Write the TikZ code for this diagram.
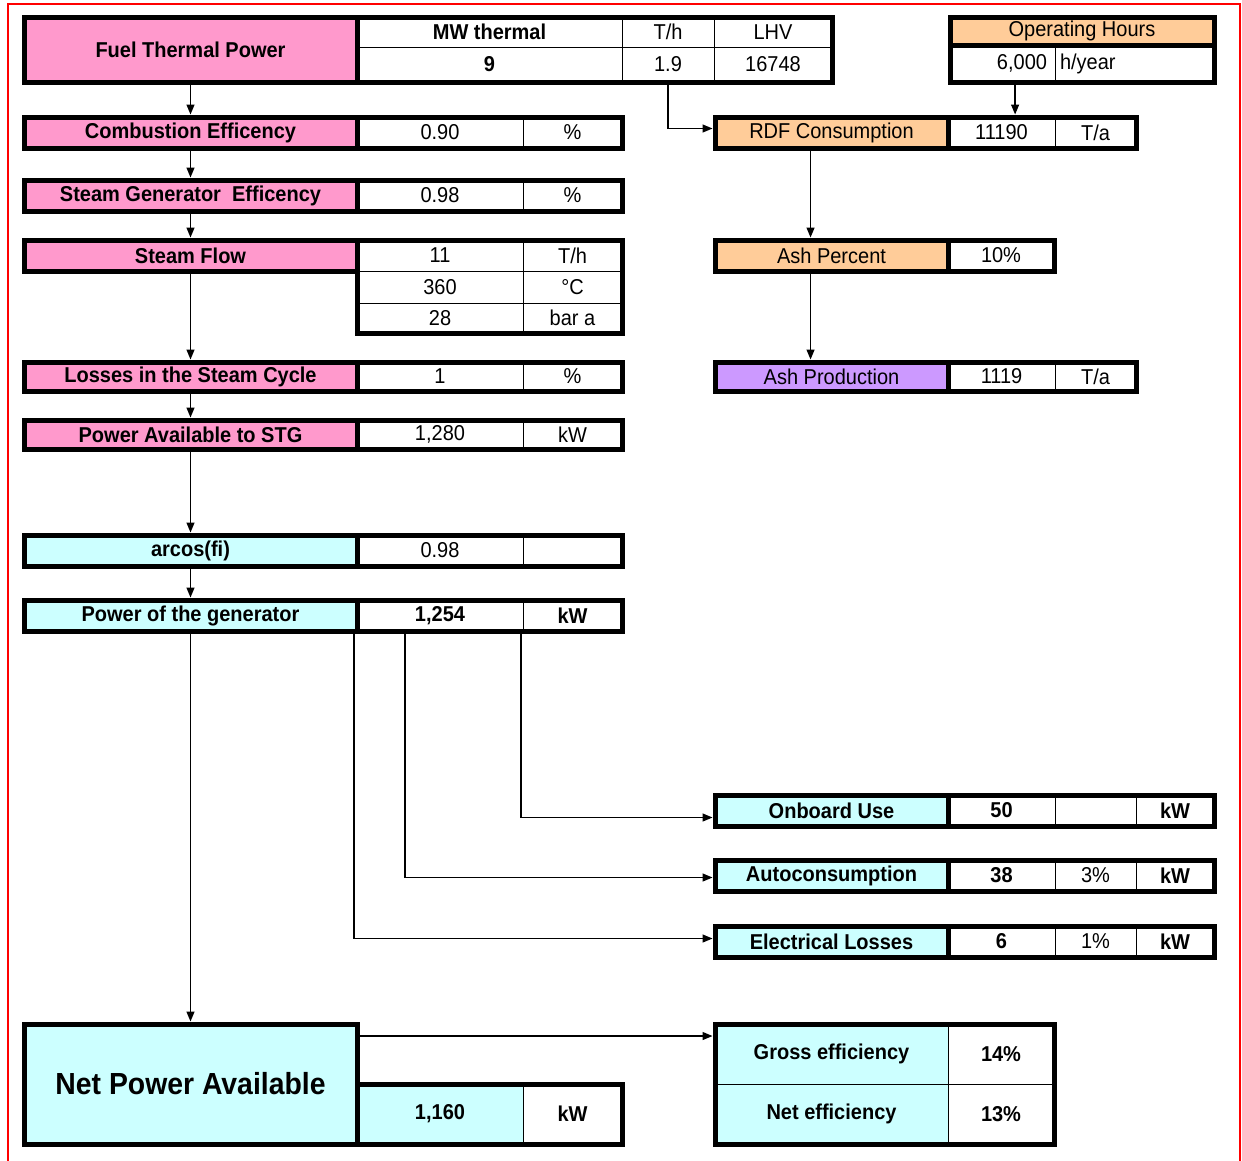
\documentclass[tikz,border=0pt]{standalone}
\usepackage{fontspec}
\setmainfont{Liberation Sans}[FakeStretch=0.93]
\usetikzlibrary{arrows.meta,calc}
\definecolor{pinkc}{HTML}{FF99CC}
\definecolor{orangec}{HTML}{FFCC99}
\definecolor{purplec}{HTML}{CC99FF}
\definecolor{cyanc}{HTML}{CCFFFF}
\newcommand\cel[8]{\node[cellb,fill=#6,minimum width={(#4-#2)*1pt},minimum height={(#5-#3)*1pt},#7] (#1) at ({(#2+#4)/2},{(#3+#5)/2}) {#8};}
\begin{document}
\begin{tikzpicture}[x=1pt,y=-1pt,
  cellb/.style={draw=black,line width=0.8pt,inner sep=0pt,outer sep=0pt,font=\fontsize{21.5}{24}\selectfont},
  bx/.style={draw=black,line width=5pt},
  arr/.style={draw=black,line width=1.3pt,shorten >=2.5pt,-{Triangle[length=10pt,width=8pt]}},
  bf/.style={font=\fontsize{21.5}{24}\selectfont\bfseries}]
\useasboundingbox (0,0) rectangle (1242,1160);
\draw[red,line width=2.5pt] (8,1162) -- (8,4) -- (1240,4) -- (1240,1162);

% Fuel thermal power
\cel{ftp}{24}{17}{357}{82}{pinkc}{bf}{Fuel Thermal Power}
\cel{mw}{357}{17}{622}{47}{white}{bf}{MW thermal}
\cel{mwv}{357}{47}{622}{82}{white}{bf}{9}
\cel{th}{622}{17}{714}{47}{white}{}{T/h}
\cel{thv}{622}{47}{714}{82}{white}{}{1.9}
\cel{lhv}{714}{17}{832}{47}{white}{}{LHV}
\cel{lhvv}{714}{47}{832}{82}{white}{}{16748}
\draw[bx] (ftp.north west) rectangle (lhvv.south east);
\draw[bx] (ftp.north east) -- (ftp.south east);

% Operating hours
\cel{oh}{950}{17}{1214}{45}{orangec}{}{Operating Hours}
\cel{ohv}{950}{45}{1055}{82}{white}{text width=89pt,align=right}{6,000}
\cel{ohu}{1055}{45}{1214}{82}{white}{text width=149pt,align=left}{h/year}
\draw[bx] (oh.north west) rectangle (ohu.south east);
\draw[bx] (oh.south west) -- (oh.south east);

% Combustion efficiency
\cel{ce}{24}{117}{357}{148}{pinkc}{bf}{Combustion Efficency}
\cel{cev}{357}{117}{523}{148}{white}{}{0.90}
\cel{ceu}{523}{117}{622}{148}{white}{}{\%}
\draw[bx] (ce.north west) rectangle (ceu.south east);
\draw[bx] (ce.north east) -- (ce.south east);

% Steam generator efficiency
\cel{sg}{24}{180}{357}{211}{pinkc}{bf}{Steam Generator\ \ Efficency}
\cel{sgv}{357}{180}{523}{211}{white}{}{0.98}
\cel{sgu}{523}{180}{622}{211}{white}{}{\%}
\draw[bx] (sg.north west) rectangle (sgu.south east);
\draw[bx] (sg.north east) -- (sg.south east);

% Steam flow
\cel{sf}{24}{240}{357}{271}{pinkc}{bf}{Steam Flow}
\cel{sfa}{357}{240}{523}{271}{white}{}{11}
\cel{sfau}{523}{240}{622}{271}{white}{}{T/h}
\cel{sfb}{357}{271}{523}{303}{white}{}{360}
\cel{sfbu}{523}{271}{622}{303}{white}{}{°C}
\cel{sfc}{357}{303}{523}{333}{white}{}{28}
\cel{sfcu}{523}{303}{622}{333}{white}{}{bar a}
\draw[bx] (sf.north west) rectangle (sf.south east);
\draw[bx] (sfa.north west) rectangle (sfcu.south east);

% Losses in the steam cycle
\cel{lsc}{24}{362}{357}{391}{pinkc}{bf}{Losses in the Steam Cycle}
\cel{lscv}{357}{362}{523}{391}{white}{}{1}
\cel{lscu}{523}{362}{622}{391}{white}{}{\%}
\draw[bx] (lsc.north west) rectangle (lscu.south east);
\draw[bx] (lsc.north east) -- (lsc.south east);

% Power available to STG
\cel{pa}{24}{420}{357}{449}{pinkc}{bf}{Power Available to STG}
\cel{pav}{357}{420}{523}{449}{white}{}{1,280}
\cel{pau}{523}{420}{622}{449}{white}{}{kW}
\draw[bx] (pa.north west) rectangle (pau.south east);
\draw[bx] (pa.north east) -- (pa.south east);

% arcos(fi)
\cel{arc}{24}{535}{357}{566}{cyanc}{bf}{arcos(fi)}
\cel{arcv}{357}{535}{523}{566}{white}{}{0.98}
\cel{arcu}{523}{535}{622}{566}{white}{}{}
\draw[bx] (arc.north west) rectangle (arcu.south east);
\draw[bx] (arc.north east) -- (arc.south east);

% Power of the generator
\cel{pg}{24}{600}{357}{631}{cyanc}{bf}{Power of the generator}
\cel{pgv}{357}{600}{523}{631}{white}{bf}{1,254}
\cel{pgu}{523}{600}{622}{631}{white}{bf}{kW}
\draw[bx] (pg.north west) rectangle (pgu.south east);
\draw[bx] (pg.north east) -- (pg.south east);

% Onboard use
\cel{ob}{715}{795}{948}{826}{cyanc}{bf}{Onboard Use}
\cel{obv}{948}{795}{1055}{826}{white}{bf}{50}
\cel{obp}{1055}{795}{1136}{826}{white}{}{}
\cel{obu}{1136}{795}{1214}{826}{white}{bf}{kW}
\draw[bx] (ob.north west) rectangle (obu.south east);
\draw[bx] (ob.north east) -- (ob.south east);

% Autoconsumption
\cel{ac}{715}{860}{948}{891}{cyanc}{bf}{Autoconsumption}
\cel{acv}{948}{860}{1055}{891}{white}{bf}{38}
\cel{acp}{1055}{860}{1136}{891}{white}{}{3\%}
\cel{acu}{1136}{860}{1214}{891}{white}{bf}{kW}
\draw[bx] (ac.north west) rectangle (acu.south east);
\draw[bx] (ac.north east) -- (ac.south east);

% Electrical losses
\cel{el}{715}{926}{948}{957}{cyanc}{bf}{Electrical Losses}
\cel{elv}{948}{926}{1055}{957}{white}{bf}{6}
\cel{elp}{1055}{926}{1136}{957}{white}{}{1\%}
\cel{elu}{1136}{926}{1214}{957}{white}{bf}{kW}
\draw[bx] (el.north west) rectangle (elu.south east);
\draw[bx] (el.north east) -- (el.south east);

% Net power available
\cel{np}{24}{1024}{357}{1144}{cyanc}{font=\fontsize{30.5}{34}\selectfont\bfseries}{Net Power Available}
\cel{npv}{357}{1084}{523}{1144}{cyanc}{bf}{1,160}
\cel{npu}{523}{1084}{622}{1144}{white}{bf}{kW}
\draw[bx] (np.north west) rectangle (np.south east);
\draw[bx] (npv.north west) rectangle (npu.south east);

% Efficiencies
\cel{ge}{715}{1024}{948}{1084}{cyanc}{bf}{Gross efficiency}
\cel{gev}{948}{1024}{1054}{1084}{white}{bf}{14\%}
\cel{ne}{715}{1084}{948}{1144}{cyanc}{bf}{Net efficiency}
\cel{nev}{948}{1084}{1054}{1144}{white}{bf}{13\%}
\draw[bx] (ge.north west) rectangle (nev.south east);

% RDF consumption
\cel{rdf}{715}{117}{948}{148}{orangec}{}{RDF Consumption}
\cel{rdfv}{948}{117}{1055}{148}{white}{}{11190}
\cel{rdfu}{1055}{117}{1136}{148}{white}{}{T/a}
\draw[bx] (rdf.north west) rectangle (rdfu.south east);
\draw[bx] (rdf.north east) -- (rdf.south east);

% Ash percent
\cel{ap}{715}{240}{948}{271}{orangec}{}{Ash Percent}
\cel{apv}{948}{240}{1054}{271}{white}{}{10\%}
\draw[bx] (ap.north west) rectangle (apv.south east);
\draw[bx] (ap.north east) -- (ap.south east);

% Ash production
\cel{apr}{715}{362}{948}{391}{purplec}{}{Ash Production}
\cel{aprv}{948}{362}{1055}{391}{white}{}{1119}
\cel{apru}{1055}{362}{1136}{391}{white}{}{T/a}
\draw[bx] (apr.north west) rectangle (apru.south east);
\draw[bx] (apr.north east) -- (apr.south east);

% Connectors
\draw[arr] (ftp.south) -- (ce.north);
\draw[arr] (ce.south) -- (sg.north);
\draw[arr] (sg.south) -- (sf.north);
\draw[arr] (sf.south) -- (lsc.north);
\draw[arr] (lsc.south) -- (pa.north);
\draw[arr] (pa.south) -- (arc.north);
\draw[arr] (arc.south) -- (pg.north);
\draw[arr] (pg.south) -- (np.north);
\draw[arr] (thv.south) |- ([yshift=4pt]rdf.west);
\coordinate (ohx) at ($(ohv.south west)!0.62!(ohv.south east)$);
\draw[arr] (ohx) -- (ohx |- rdfv.north);
\coordinate (rdx) at ($(rdf.south west)!0.41!(rdf.south east)$);
\draw[arr] (rdx) -- (rdx |- ap.north);
\coordinate (apx) at (rdx |- ap.south);
\draw[arr] (apx) -- (apx |- apr.north);
\draw[arr] ([xshift=-2pt]pgv.south east) |- ([yshift=-7pt]ob.west);
\coordinate (pgx) at ($(pgv.south west)!0.29!(pgv.south east)$);
\draw[arr] (pgx) |- ([yshift=-2pt]ac.west);
\draw[arr] ([xshift=-3pt]pgv.south west) |- ([yshift=3pt]el.west);
\coordinate (npo) at ([yshift=-12pt]np.north east);
\draw[arr] (npo) -- (npo -| ge.west);
\end{tikzpicture}
\end{document}
